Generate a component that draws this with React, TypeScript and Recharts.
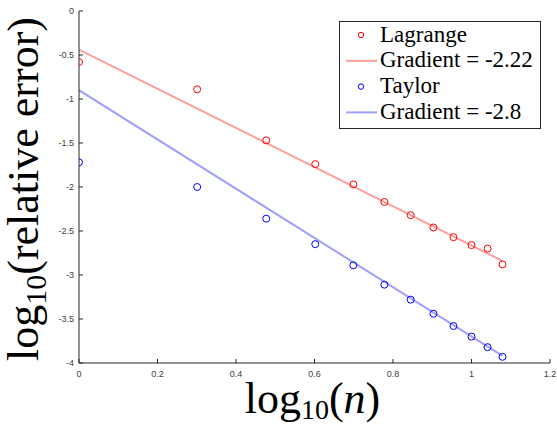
import {
  ComposedChart,
  Line,
  Scatter,
  XAxis,
  YAxis,
  Legend,
} from "recharts";

// log10(n) for n = 1..12
const logN = [0, 0.301, 0.477, 0.602, 0.699, 0.778, 0.845, 0.903, 0.954, 1.0, 1.041, 1.079];
const lagrangeErr = [-0.58, -0.89, -1.47, -1.74, -1.97, -2.17, -2.32, -2.46, -2.57, -2.66, -2.7, -2.88];
const taylorErr = [-1.72, -2.0, -2.36, -2.65, -2.89, -3.11, -3.28, -3.44, -3.58, -3.7, -3.82, -3.93];

// least squares fit lines, end points
const fitX = [0, 1.079];
const lagrangeFit = [-0.44, -2.84];
const taylorFit = [-0.9, -3.92];

const xTicks = [0, 0.2, 0.4, 0.6, 0.8, 1, 1.2];
const yTicks = [-4, -3.5, -3, -2.5, -2, -1.5, -1, -0.5, 0];

const legendItems = [
  { label: "Lagrange", kind: "circle", color: "#ff0000" },
  { label: "Gradient = -2.22", kind: "line", color: "#ffa0a0" },
  { label: "Taylor", kind: "circle", color: "#0000ff" },
  { label: "Gradient = -2.8", kind: "line", color: "#a0a0ff" },
];

const toPoints = (xs: number[], ys: number[]) => xs.map((x, i) => ({ x, y: ys[i] }));

const lagrangeData = toPoints(logN, lagrangeErr);
const taylorData = toPoints(logN, taylorErr);
const lagrangeFitData = toPoints(fitX, lagrangeFit);
const taylorFitData = toPoints(fitX, taylorFit);

const AXIS = "#262626";
const serif = { fontFamily: "Liberation Serif, DejaVu Serif, serif" };
const tickStyle = { fontSize: 9, fill: "#404040", fontFamily: "Liberation Sans, Arial, sans-serif" };

const ring = (color: string) => (props: any) => (
  <circle cx={props.cx} cy={props.cy} r={3.5} fill="none" stroke={color} strokeWidth={1} />
);

const YLabel = (props: any) => {
  const vb = props.viewBox || { x: 0, y: 0, width: 0, height: 0 };
  const cx = vb.x + 38;
  const cy = vb.y + vb.height / 2 + 2;
  return (
    <text
      x={cx}
      y={cy}
      textAnchor="middle"
      transform={`rotate(-90, ${cx}, ${cy})`}
      style={serif}
      fontSize={44}
      fill="#000"
    >
      log
      <tspan fontSize={30} dy={8}>10</tspan>
      <tspan dy={-8}>(relative error)</tspan>
    </text>
  );
};

const XLabel = (props: any) => {
  const vb = props.viewBox || { x: 0, y: 0, width: 0, height: 0 };
  return (
    <text
      x={vb.x + vb.width / 2 - 2}
      y={vb.y + 50}
      textAnchor="middle"
      style={serif}
      fontSize={44}
      fill="#000"
    >
      log
      <tspan fontSize={28} dy={6}>10</tspan>
      <tspan dy={-6}>(</tspan>
      <tspan fontStyle="italic">n</tspan>
      <tspan>)</tspan>
    </text>
  );
};

const LegendBox = () => (
  <svg width={202} height={108} style={{ display: "block" }}>
    <rect x={0.5} y={0.5} width={201} height={107} fill="#fff" stroke={AXIS} strokeWidth={1} />
    {legendItems.map((item, i) => {
      const cy = 14 + i * 25.8;
      return (
        <g key={item.label}>
          {item.kind === "circle" ? (
            <circle cx={22} cy={cy} r={2.7} fill="none" stroke={item.color} strokeWidth={1} />
          ) : (
            <line x1={7} x2={38} y1={cy} y2={cy} stroke={item.color} strokeWidth={2} />
          )}
          <text x={41} y={cy + 6.5} style={serif} fontSize={23} fill="#000">
            {item.label}
          </text>
        </g>
      );
    })}
  </svg>
);

export default function App() {
  return (
    <div style={{ position: "absolute", left: 0, top: 0, background: "#fff" }}>
      <ComposedChart
        width={557}
        height={427}
        margin={{ top: 11, right: 7, bottom: 0, left: 0 }}
      >
        <XAxis
          dataKey="x"
          type="number"
          domain={[0, 1.2]}
          ticks={xTicks}
          allowDataOverflow
          height={64}
          stroke={AXIS}
          tickSize={-4}
          tickMargin={12}
          tick={tickStyle}
          label={<XLabel />}
        />
        <XAxis
          xAxisId="top"
          orientation="top"
          dataKey="x"
          type="number"
          domain={[0, 1.2]}
          ticks={xTicks}
          allowDataOverflow
          height={0}
          stroke={AXIS}
          tickSize={-4}
          tickFormatter={() => ""}
        />
        <YAxis
          type="number"
          domain={[-4, 0]}
          ticks={yTicks}
          allowDataOverflow
          width={79}
          stroke={AXIS}
          tickSize={-4}
          tickMargin={9}
          tick={tickStyle}
          label={<YLabel />}
        />
        <YAxis
          yAxisId="right"
          orientation="right"
          type="number"
          domain={[-4, 0]}
          ticks={yTicks}
          allowDataOverflow
          width={0}
          stroke={AXIS}
          tickSize={-4}
          tickFormatter={() => ""}
        />
        <Legend
          layout="vertical"
          align="center"
          verticalAlign="middle"
          content={<LegendBox />}
          wrapperStyle={{ position: "absolute", left: 339, top: 21, width: 202, height: 108 }}
        />
        <Line
          data={lagrangeFitData}
          dataKey="y"
          type="linear"
          stroke="#ffa0a0"
          strokeWidth={2}
          dot={false}
          activeDot={false}
          isAnimationActive={false}
        />
        <Line
          data={taylorFitData}
          dataKey="y"
          type="linear"
          stroke="#a0a0ff"
          strokeWidth={2}
          dot={false}
          activeDot={false}
          isAnimationActive={false}
        />
        <Scatter
          data={lagrangeData}
          dataKey="y"
          shape={ring("#ff0000")}
          isAnimationActive={false}
        />
        <Scatter
          data={taylorData}
          dataKey="y"
          shape={ring("#0000ff")}
          isAnimationActive={false}
        />
      </ComposedChart>
    </div>
  );
}
